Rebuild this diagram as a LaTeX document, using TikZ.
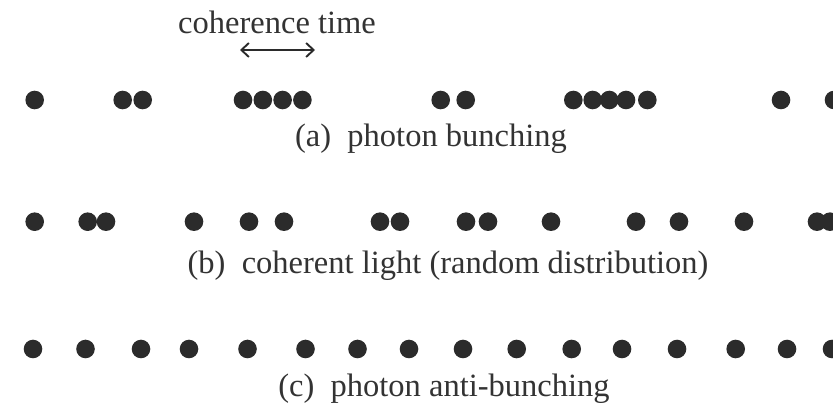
\documentclass[tikz,border=0pt]{standalone}
\usepackage{fontspec}
\setmainfont{Liberation Serif}
\usetikzlibrary{arrows.meta}
\definecolor{ink}{HTML}{2B2B2B}
\definecolor{txt}{HTML}{333333}
\tikzset{
  photon/.style={circle,fill=ink,draw=none,minimum size=18.6pt,inner sep=0pt},
  caption/.style={anchor=base,text=txt,inner sep=0pt,font=\fontsize{32.5}{39}\selectfont},
  span/.style={draw=ink,line width=1.9pt,{Straight Barb[length=7.5pt,width=14pt]}-{Straight Barb[length=7.5pt,width=14pt]}}
}
\begin{document}
\begin{tikzpicture}[x=1pt,y=-1pt]
\useasboundingbox[fill=white] (0,0) rectangle (833,411);
% row (a)
\foreach \x [count=\i] in {34.7,122.7,142.7,243,262.8,282.6,302.4,440.7,465.7,573.3,592.7,609.3,626,647.3,781,834}
  \node[photon] (a\i) at (\x,100) {};
% row (b)
\foreach \x [count=\i] in {34.7,87.7,106,194,249,284,380,400,466,488,551,636,679,744,817,830}
  \node[photon] (b\i) at (\x,221.7) {};
% row (c)
\foreach \x [count=\i] in {33,85.5,141,189,247.5,305.5,357.5,409,463,516.7,571.7,622,677,735.7,787,832}
  \node[photon] (c\i) at (\x,349) {};
% labels
\node[caption] (ct) at (277,34) {coherence time};
\node[caption] (la) at (431,147) {(a)\hspace{0.5em}photon bunching};
\node[caption] (lb) at (448,274) {(b)\hspace{0.5em}coherent light (random distribution)};
\node[caption] (lc) at (444,397) {(c)\hspace{0.5em}photon anti-bunching};
% coherence time arrow
\coordinate (tl) at (240,50);
\coordinate (tr) at (315,50);
\draw[span] (tl) -- (tr);
\end{tikzpicture}
\end{document}
